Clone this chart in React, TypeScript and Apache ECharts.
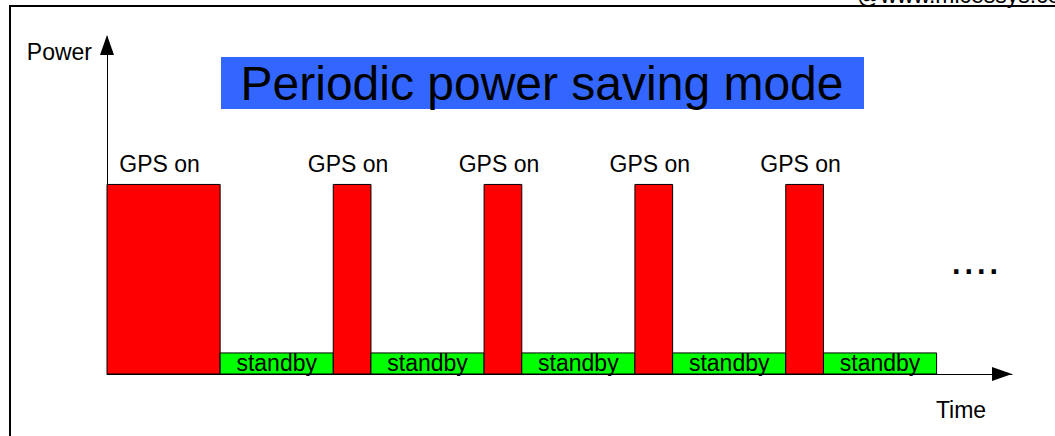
import React, { useEffect, useRef } from "react";
import * as echarts from "echarts";

// Timeline segments (time units) and power levels
const segStart = [0, 3, 6, 7, 10, 11, 14, 15, 18, 19];
const segEnd = [3, 6, 7, 10, 11, 14, 15, 18, 19, 22];
const segPower = [9, 1, 9, 1, 9, 1, 9, 1, 9, 1];
const segLabel = [
  "GPS on", "standby", "GPS on", "standby", "GPS on",
  "standby", "GPS on", "standby", "GPS on", "standby",
];

const titleText = "Periodic power saving mode";
const yAxisName = "Power";
const xAxisName = "Time";
const watermark = "@www.micessys.com";

const FONT = "'Liberation Sans', Arial, sans-serif";

export default function App() {
  const ref = useRef<HTMLDivElement>(null);
  useEffect(() => {
    if (!ref.current) return;
    const chart = echarts.init(ref.current, null, { renderer: "svg" });
    const data = segStart.map((s, i) => [s, segEnd[i], segPower[i], segLabel[i]]);
    chart.setOption({
      animation: false,
      backgroundColor: "#ffffff",
      grid: { left: 107, right: 43, top: 37, bottom: 62 },
      xAxis: {
        type: "value",
        min: 0,
        max: 24,
        axisLine: {
          show: true,
          lineStyle: { color: "#000", width: 1 },
          symbol: ["none", "triangle"],
          symbolSize: [14, 20],
          symbolOffset: [0, -10],
        },
        axisTick: { show: false },
        axisLabel: { show: false },
        splitLine: { show: false },
      },
      yAxis: {
        type: "value",
        min: 0,
        max: 16,
        axisLine: {
          show: true,
          lineStyle: { color: "#000", width: 1 },
          symbol: ["none", "triangle"],
          symbolSize: [14, 20],
          symbolOffset: [0, -8],
        },
        axisTick: { show: false },
        axisLabel: { show: false },
        splitLine: { show: false },
      },
      series: [
        {
          type: "custom",
          data,
          encode: { x: [0, 1], y: 2 },
          renderItem: (params: any, api: any) => {
            const x0 = api.value(0);
            const x1 = api.value(1);
            const p = api.value(2);
            const label = segLabel[params.dataIndex];
            const a = api.coord([x0, p]);
            const b = api.coord([x1, 0]);
            const isOn = label === "GPS on";
            const rect = {
              type: "rect",
              shape: { x: a[0], y: a[1], width: b[0] - a[0], height: b[1] - a[1] },
              style: { fill: isOn ? "#ff0000" : "#00ff00", stroke: "#000", lineWidth: 1 },
            };
            const text = {
              type: "text",
              x: (a[0] + b[0]) / 2 + (isOn ? -4 : 0),
              y: isOn ? a[1] - 20 : (a[1] + b[1]) / 2,
              style: {
                text: label,
                fill: "#000",
                font: `23px ${FONT}`,
                align: "center",
                verticalAlign: "middle",
              },
              z2: 10,
            };
            return { type: "group", children: [rect, text] };
          },
        },
      ],
      graphic: [
        {
          type: "polyline",
          shape: { points: [[10, 436], [10, 6], [1055, 6]] },
          style: { stroke: "#000", lineWidth: 2, fill: null },
        },
        {
          type: "text",
          x: 857,
          y: -5,
          style: { text: watermark, fill: "#000", font: `23px ${FONT}`, align: "left", verticalAlign: "middle" },
        },
        {
          type: "rect",
          shape: { x: 221, y: 57, width: 643, height: 52 },
          style: { fill: "#3366ff" },
        },
        {
          type: "text",
          x: 542,
          y: 83,
          style: { text: titleText, fill: "#000", font: `48px ${FONT}`, align: "center", verticalAlign: "middle" },
        },
        {
          type: "text",
          x: 92,
          y: 52,
          style: { text: yAxisName, fill: "#000", font: `23px ${FONT}`, align: "right", verticalAlign: "middle" },
        },
        {
          type: "text",
          x: 961,
          y: 410,
          style: { text: xAxisName, fill: "#000", font: `23px ${FONT}`, align: "center", verticalAlign: "middle" },
        },
        {
          type: "text",
          x: 975,
          y: 258,
          style: { text: "....", fill: "#000", font: `45px ${FONT}`, align: "center", verticalAlign: "middle" },
        },
      ],
    });
    return () => chart.dispose();
  }, []);
  return (
    <div
      ref={ref}
      style={{ position: "absolute", left: 0, top: 0, width: 1055, height: 436, background: "#fff" }}
    />
  );
}
